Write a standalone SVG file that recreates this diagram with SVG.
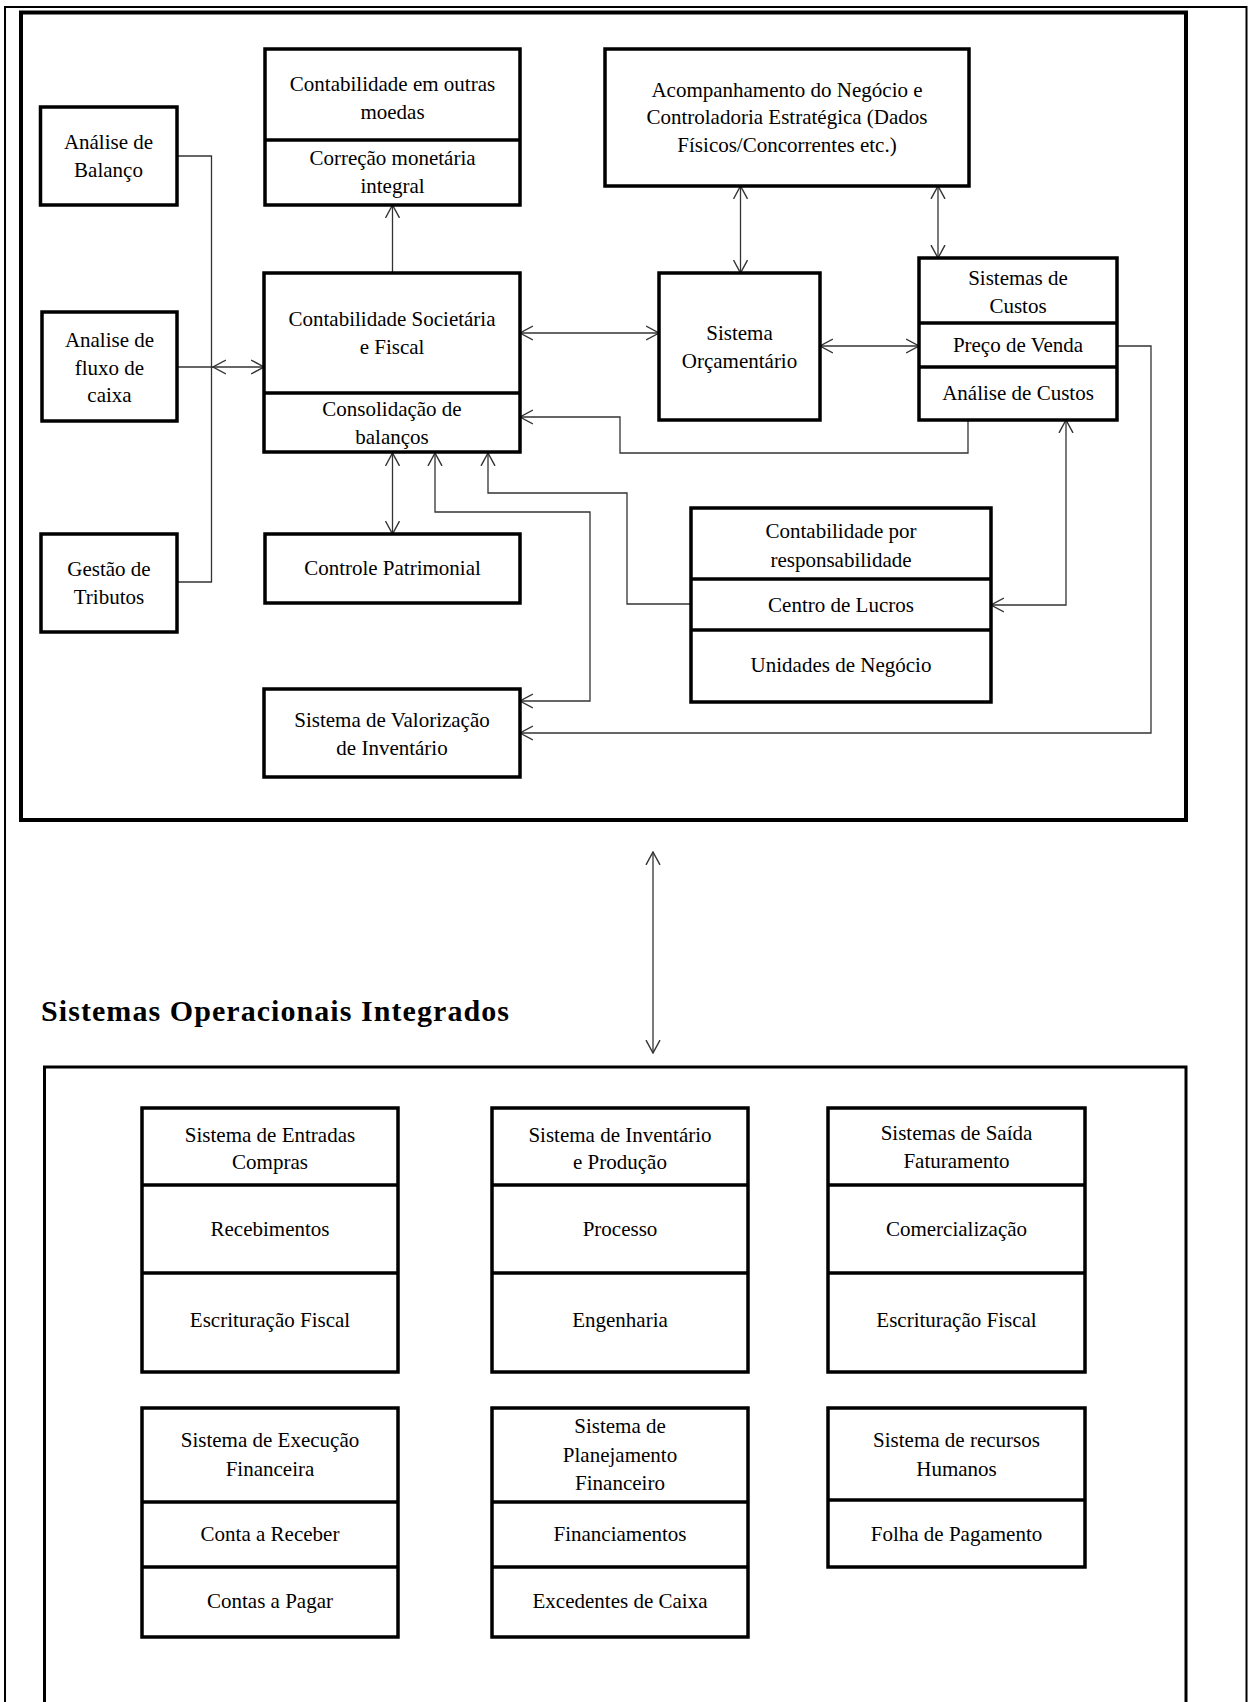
<svg xmlns="http://www.w3.org/2000/svg" width="1248" height="1702" viewBox="0 0 1248 1702">
<style>
.box{fill:#fff;stroke:#000;stroke-width:3.5}
.div{stroke:#000;stroke-width:3.5}
.frame{fill:none;stroke:#000}
.t{font-family:"Liberation Serif","Times New Roman",serif;font-size:21px;fill:#000;text-anchor:middle}
.title{font-family:"Liberation Serif","Times New Roman",serif;font-size:30px;font-weight:bold;fill:#000}
.c{fill:none;stroke:#333;stroke-width:1.3}
</style>
<defs>
<marker id="ah" markerUnits="userSpaceOnUse" markerWidth="14" markerHeight="16" viewBox="0 0 13 14" refX="12.5" refY="7" orient="auto-start-reverse">
<path d="M0.5,0.5 L12.5,7 L0.5,13.5" fill="none" stroke="#333" stroke-width="1.3"/>
</marker>
</defs>
<rect width="1248" height="1702" fill="#fff"/>
<path class="frame" d="M5,1702 V7 H1246.5 V1702" stroke-width="2"/>
<rect class="frame" x="21" y="12.5" width="1165" height="807.5" stroke-width="4"/>
<path class="frame" d="M44.5,1702 V1067 H1186 V1702" stroke-width="3"/>

<g id="connectors">
<path class="c" d="M177,156 H211.5 V582 H177"/>
<path class="c" d="M177,367 H213"/>
<path class="c" d="M213,367 H264" marker-start="url(#ah)" marker-end="url(#ah)"/>
<path class="c" d="M392.5,273 V205" marker-end="url(#ah)"/>
<path class="c" d="M520,333 H659" marker-start="url(#ah)" marker-end="url(#ah)"/>
<path class="c" d="M968,420 V453 H620 V417 H520" marker-end="url(#ah)"/>
<path class="c" d="M820,346 H919" marker-start="url(#ah)" marker-end="url(#ah)"/>
<path class="c" d="M740.5,186 V273" marker-start="url(#ah)" marker-end="url(#ah)"/>
<path class="c" d="M938,186 V258" marker-start="url(#ah)" marker-end="url(#ah)"/>
<path class="c" d="M1117,346 H1151 V733 H520" marker-end="url(#ah)"/>
<path class="c" d="M1066,420 V605 H991" marker-start="url(#ah)" marker-end="url(#ah)"/>
<path class="c" d="M691,604 H627 V493 H488 V453" marker-end="url(#ah)"/>
<path class="c" d="M435,453 V512 H590 V701 H520" marker-start="url(#ah)" marker-end="url(#ah)"/>
<path class="c" d="M392.5,453 V534" marker-start="url(#ah)" marker-end="url(#ah)"/>
<path class="c" d="M653,852 V1053" marker-start="url(#ah)" marker-end="url(#ah)"/>
</g>

<g id="n_balanco">
<rect class="box" x="40.5" y="107" width="136.5" height="98"/>
<text class="t" x="108.5" y="149">Análise de</text>
<text class="t" x="108.5" y="177">Balanço</text>
</g>
<g id="n_fluxo">
<rect class="box" x="42" y="312" width="135" height="109"/>
<text class="t" x="109.5" y="347">Analise de</text>
<text class="t" x="109.5" y="375">fluxo de</text>
<text class="t" x="109.5" y="402">caixa</text>
</g>
<g id="n_tributos">
<rect class="box" x="41" y="534" width="136" height="98"/>
<text class="t" x="109" y="576">Gestão de</text>
<text class="t" x="109" y="604">Tributos</text>
</g>
<g id="n_moedas">
<rect class="box" x="265" y="49" width="255" height="156"/>
<line class="div" x1="265" y1="140" x2="520" y2="140"/>
<text class="t" x="392.5" y="91">Contabilidade em outras</text>
<text class="t" x="392.5" y="119">moedas</text>
<text class="t" x="392.5" y="165">Correção monetária</text>
<text class="t" x="392.5" y="193">integral</text>
</g>
<g id="n_societaria">
<rect class="box" x="264" y="273" width="256" height="179"/>
<line class="div" x1="264" y1="393" x2="520" y2="393"/>
<text class="t" x="392" y="326">Contabilidade Societária</text>
<text class="t" x="392" y="354">e Fiscal</text>
<text class="t" x="392" y="416">Consolidação de</text>
<text class="t" x="392" y="444">balanços</text>
</g>
<g id="n_patrimonial">
<rect class="box" x="265" y="534" width="255" height="69"/>
<text class="t" x="392.5" y="575">Controle Patrimonial</text>
</g>
<g id="n_valorizacao">
<rect class="box" x="264" y="689" width="256" height="88"/>
<text class="t" x="392" y="727">Sistema de Valorização</text>
<text class="t" x="392" y="755">de Inventário</text>
</g>
<g id="n_acompanhamento">
<rect class="box" x="605" y="49" width="364" height="137"/>
<text class="t" x="787" y="97">Acompanhamento do Negócio e</text>
<text class="t" x="787" y="124">Controladoria Estratégica (Dados</text>
<text class="t" x="787" y="152">Físicos/Concorrentes etc.)</text>
</g>
<g id="n_orcamentario">
<rect class="box" x="659" y="273" width="161" height="147"/>
<text class="t" x="739.5" y="340">Sistema</text>
<text class="t" x="739.5" y="368">Orçamentário</text>
</g>
<g id="n_custos">
<rect class="box" x="919" y="258" width="198" height="162"/>
<line class="div" x1="919" y1="323" x2="1117" y2="323"/>
<line class="div" x1="919" y1="367" x2="1117" y2="367"/>
<text class="t" x="1018" y="285">Sistemas de</text>
<text class="t" x="1018" y="313">Custos</text>
<text class="t" x="1018" y="352">Preço de Venda</text>
<text class="t" x="1018" y="400">Análise de Custos</text>
</g>
<g id="n_responsabilidade">
<rect class="box" x="691" y="508" width="300" height="194"/>
<line class="div" x1="691" y1="579" x2="991" y2="579"/>
<line class="div" x1="691" y1="630" x2="991" y2="630"/>
<text class="t" x="841" y="538">Contabilidade por</text>
<text class="t" x="841" y="567">responsabilidade</text>
<text class="t" x="841" y="612">Centro de Lucros</text>
<text class="t" x="841" y="672">Unidades de Negócio</text>
</g>

<text class="title" x="41" y="1021" textLength="468" lengthAdjust="spacing">Sistemas Operacionais Integrados</text>

<g id="n_entradas">
<rect class="box" x="142" y="1108" width="256" height="264"/>
<line class="div" x1="142" y1="1185" x2="398" y2="1185"/>
<line class="div" x1="142" y1="1273" x2="398" y2="1273"/>
<text class="t" x="270" y="1142">Sistema de Entradas</text>
<text class="t" x="270" y="1169">Compras</text>
<text class="t" x="270" y="1236">Recebimentos</text>
<text class="t" x="270" y="1327">Escrituração Fiscal</text>
</g>
<g id="n_inventario">
<rect class="box" x="492" y="1108" width="256" height="264"/>
<line class="div" x1="492" y1="1185" x2="748" y2="1185"/>
<line class="div" x1="492" y1="1273" x2="748" y2="1273"/>
<text class="t" x="620" y="1142">Sistema de Inventário</text>
<text class="t" x="620" y="1169">e Produção</text>
<text class="t" x="620" y="1236">Processo</text>
<text class="t" x="620" y="1327">Engenharia</text>
</g>
<g id="n_saida">
<rect class="box" x="828" y="1108" width="257" height="264"/>
<line class="div" x1="828" y1="1185" x2="1085" y2="1185"/>
<line class="div" x1="828" y1="1273" x2="1085" y2="1273"/>
<text class="t" x="956.5" y="1140">Sistemas de Saída</text>
<text class="t" x="956.5" y="1168">Faturamento</text>
<text class="t" x="956.5" y="1236">Comercialização</text>
<text class="t" x="956.5" y="1327">Escrituração Fiscal</text>
</g>
<g id="n_execucao">
<rect class="box" x="142" y="1408" width="256" height="229"/>
<line class="div" x1="142" y1="1502" x2="398" y2="1502"/>
<line class="div" x1="142" y1="1567" x2="398" y2="1567"/>
<text class="t" x="270" y="1447">Sistema de Execução</text>
<text class="t" x="270" y="1476">Financeira</text>
<text class="t" x="270" y="1541">Conta a Receber</text>
<text class="t" x="270" y="1608">Contas a Pagar</text>
</g>
<g id="n_planejamento">
<rect class="box" x="492" y="1408" width="256" height="229"/>
<line class="div" x1="492" y1="1502" x2="748" y2="1502"/>
<line class="div" x1="492" y1="1567" x2="748" y2="1567"/>
<text class="t" x="620" y="1433">Sistema de</text>
<text class="t" x="620" y="1462">Planejamento</text>
<text class="t" x="620" y="1490">Financeiro</text>
<text class="t" x="620" y="1541">Financiamentos</text>
<text class="t" x="620" y="1608">Excedentes de Caixa</text>
</g>
<g id="n_rh">
<rect class="box" x="828" y="1408" width="257" height="159"/>
<line class="div" x1="828" y1="1500" x2="1085" y2="1500"/>
<text class="t" x="956.5" y="1447">Sistema de recursos</text>
<text class="t" x="956.5" y="1476">Humanos</text>
<text class="t" x="956.5" y="1541">Folha de Pagamento</text>
</g>
</svg>
